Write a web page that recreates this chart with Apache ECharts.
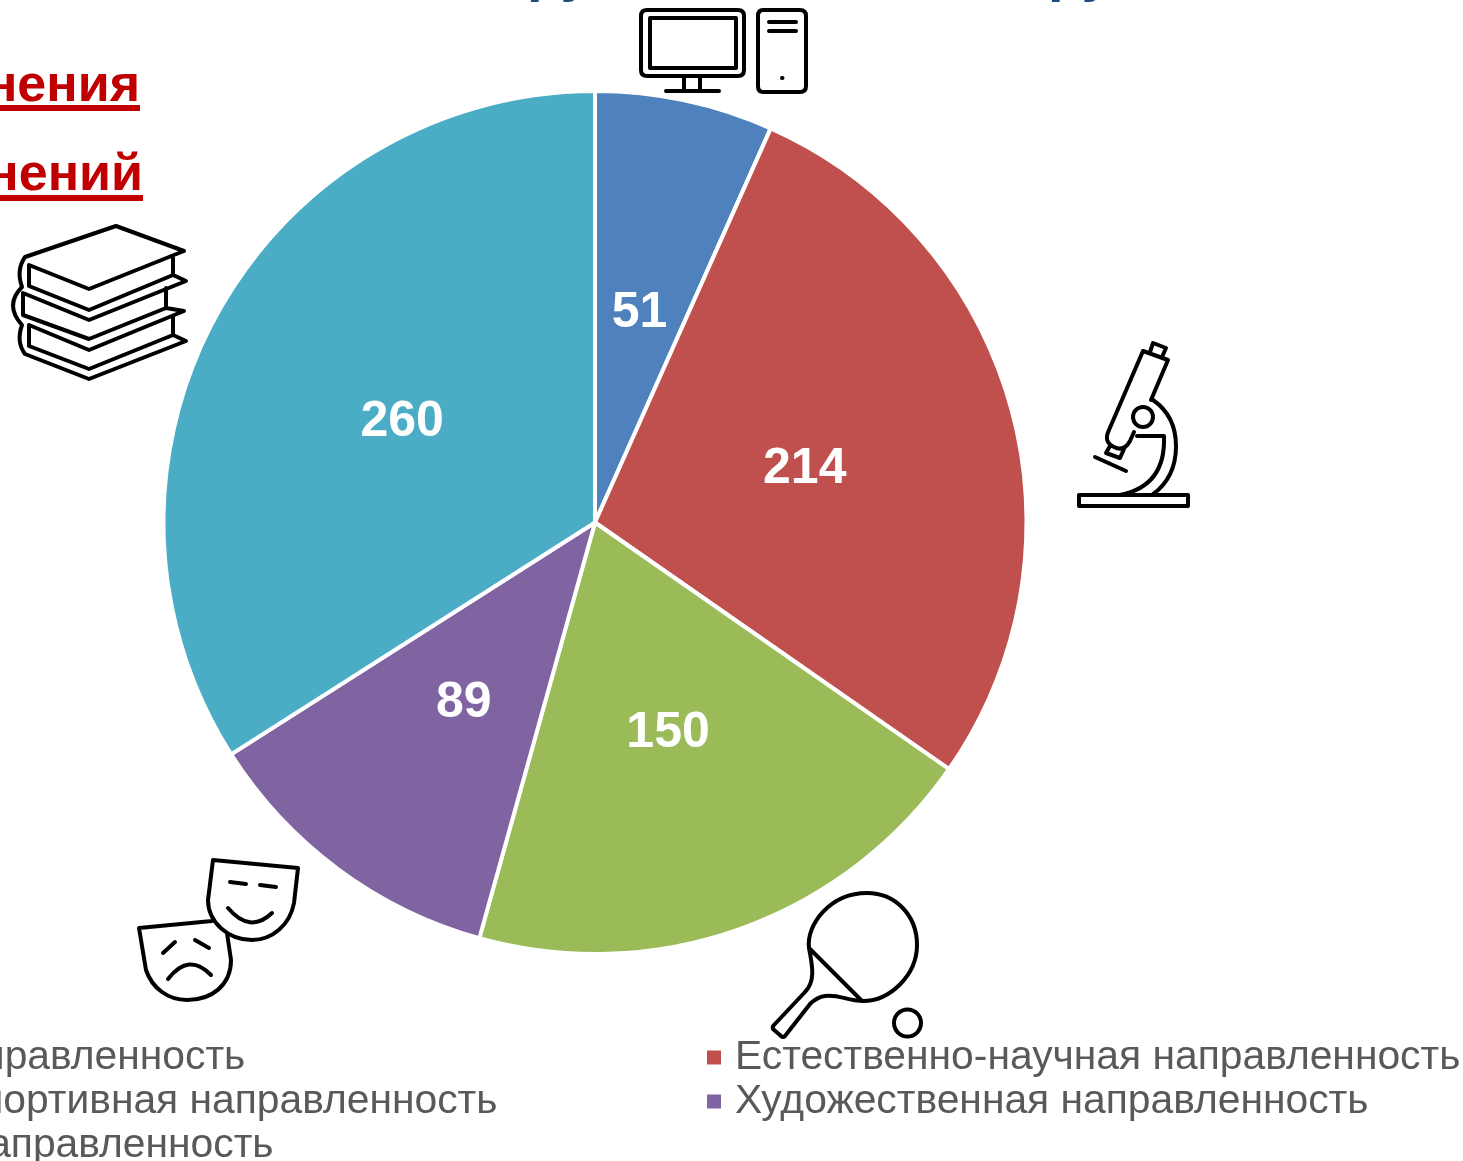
<!DOCTYPE html>
<html><head><meta charset="utf-8">
<style>html,body{margin:0;padding:0;background:#fff}#c{width:1463px;height:1161px}</style>
<script src="https://cdn.jsdelivr.net/npm/echarts@6/dist/echarts.min.js"></script>
</head><body><div id="c"></div>
<script>
const categories = ['Техническая направленность','Естественно-научная направленность','Физкультурно-спортивная направленность','Художественная направленность','Гуманитарная направленность'];
const values = [51,214,150,89,260];
const colors = ['#4F81BD','#C0504D','#9BBB59','#8064A2','#4BACC6'];
const headingLines = ['объединения','объединений'];
const titleFragment = 'ру';

const chart = echarts.init(document.getElementById('c'));
const stroke = {fill:'none',stroke:'#000',lineWidth:4,lineJoin:'round',lineCap:'round'};
const icons = {
 monitor:'M647 10 H738 Q744 10 744 16 V70 Q744 76 738 76 H647 Q641 76 641 70 V16 Q641 10 647 10 Z M650 18 H736 V68 H650 Z M684 76 V91 M700 76 V91 M666 91 H719',
 tower:'M763 10 H800 Q806 10 806 16 V86 Q806 92 800 92 H763 Q758 92 758 86 V16 Q758 10 763 10 Z M769 22 H796 M769 31 H796 M782 78 L782.5 78',
 books:'M25 257 L116 226 L184 251 L89 289 L29 265 V286 L89 310 L173 275 V258 M173 275 L186 281 L89 320 L23 293 V315 L89 339 L166 308 V288 M166 308 L184 311 L89 350 L29 325 V346 L89 369 L173 335 V317 M173 335 L186 341 L89 379 L25 354 Q16 342 22 325 Q4 305 22 287 Q16 270 25 257',
 scope:'M1150 352 L1153 343 L1166 348 L1162 357 M1143 351 L1168 360 L1151 400 M1143 351 L1109 430 Q1103 442 1114 447 Q1124 452 1130 441 L1134 432 M1110 446 L1106 453 L1120 458 L1124 449 M1095 457 L1126 471 M1153 400 Q1176 416 1176 446 Q1176 478 1152 495 M1137 436 H1164 Q1166 486 1120 495 M1079 495 H1188 V506 H1079 Z M1153 417 A10 10 0 1 1 1133 417 A10 10 0 1 1 1153 417 Z',
 paddle:'M809 948 C806 925 830 893 867 893 C895 893 917 915 917 945 C917 975 890 1001 863 1001 C848 1001 838 994 825 996 C818 997 814 1000 810 1004 L785 1036 Q783 1038 781 1036 L773 1029 Q772 1027 774 1025 L805 992 C815 982 813 968 809 948 Z M809 948 L861 1000 M921 1023 A13.5 13.5 0 1 1 894 1023 A13.5 13.5 0 1 1 921 1023 Z',
 masks:'M213 860 L298 868 L294 903 C290 925 272 940 252 940 C228 940 208 922 208 900 Z M230 882 L246 884 M260 885 L276 887 M228 908 Q250 934 272 913 M212 921 L139 928 L146 970 C152 988 168 1000 187 1000 C212 1000 231 985 231 960 L227 933 M163 953 L175 942 M195 940 L209 948 M168 979 Q189 952 211 975'
};
const iconEls = Object.keys(icons).map(k=>{
  echarts.graphic.registerShape('ic_'+k, echarts.graphic.extendPath(icons[k],{}));
  return {type:'ic_'+k,style:stroke,silent:true};
});
const legendText = {fontFamily:'Liberation Sans',fontSize:40.8,color:'#595959',padding:[0,0,0,8]};
const legendBase = {orient:'vertical',top:1032,height:300,itemWidth:16,itemHeight:16,itemGap:3,icon:'rect',selectedMode:false,textStyle:legendText};
const option = {
  animation:false,
  backgroundColor:'#fff',
  color:colors,
  legend:[
    Object.assign({},legendBase,{left:-347,data:[categories[0],categories[2],categories[4]]}),
    Object.assign({},legendBase,{left:700,data:[categories[1],categories[3]]})
  ],
  series:[{
    type:'pie',center:[595,522.5],radius:[0,431.5],startAngle:90,clockwise:true,
    data:categories.map((name,i)=>({name,value:values[i]})),
    itemStyle:{borderColor:'#fff',borderWidth:4},
    label:{show:true,position:'inside',formatter:'{c}',color:'#fff',fontFamily:'Liberation Sans',fontWeight:'bold',fontSize:50,offset:[-1,5]},
    labelLine:{show:false},
    emphasis:{disabled:true}
  }],
  graphic:[
    {type:'text',x:140,y:87,style:{text:headingLines[0],font:'bold 52px "Liberation Sans"',fill:'#C00000',textAlign:'right',textVerticalAlign:'middle'}},
    {type:'text',x:143,y:176,style:{text:headingLines[1],font:'bold 52px "Liberation Sans"',fill:'#C00000',textAlign:'right',textVerticalAlign:'middle'}},
    {type:'text',x:527,y:-25,style:{text:titleFragment,font:'bold 56px "Liberation Sans"',fill:'#1F497D',textVerticalAlign:'middle'}},
    {type:'text',x:1048,y:-25,style:{text:titleFragment,font:'bold 56px "Liberation Sans"',fill:'#1F497D',textVerticalAlign:'middle'}},
    {type:'rect',shape:{x:0,y:105,width:140,height:6},style:{fill:'#C00000'}},
    {type:'rect',shape:{x:0,y:195,width:143,height:6},style:{fill:'#C00000'}}
  ].concat(iconEls)
};
chart.setOption(option);
</script></body></html>
